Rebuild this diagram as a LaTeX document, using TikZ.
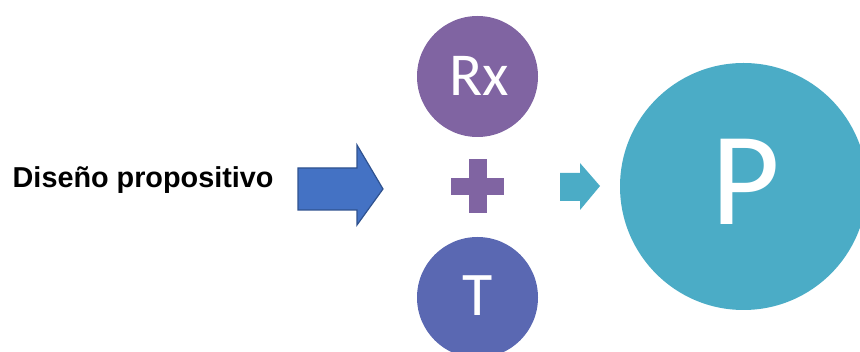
\documentclass[tikz,border=0pt]{standalone}
\usepackage{fontspec}
\setmainfont{Liberation Sans}
\newfontfamily\calib{Carlito}
\definecolor{bluearrow}{HTML}{4472C4}
\definecolor{bluearrowborder}{HTML}{2F528F}
\definecolor{purplec}{HTML}{8064A2}
\definecolor{indigoc}{HTML}{5A68B2}
\definecolor{tealc}{HTML}{4BACC6}
\begin{document}
\begin{tikzpicture}[x=1pt,y=-1pt,
  circ/.style={circle,inner sep=0pt,minimum size=#1},
  lettr/.style={text=white,inner sep=0pt,anchor=base}]
\useasboundingbox (0,0) rectangle (860,352);
\clip (0,0) rectangle (860,352);
% label
\node[anchor=base west,inner sep=0pt,font=\bfseries\fontsize{28.8}{32}\selectfont] (lbl) at (12.5,188) {Diseño propositivo};
% big arrow
\draw[fill=bluearrow,draw=bluearrowborder,line width=1.2pt,line join=miter]
  (298,168) -- (357,168) -- (357,145) -- (383,189) -- (357,225) -- (357,210) -- (298,210) -- cycle;
% circles
\node[circ=121pt,fill=purplec] (rx) at (477.5,76.5) {};
\node[circ=121pt,fill=indigoc] (t) at (477.5,297.5) {};
\node[circ=247pt,fill=tealc] (p) at (743.5,186.5) {};
\node[lettr,font=\calib\fontsize{61}{61}\selectfont] (rxl) at (479,96) {Rx};
\node[lettr,font=\calib\fontsize{62}{62}\selectfont] (tl) at (478,316) {T};
\node[lettr,font=\calib\fontsize{133}{133}\selectfont] (pl) at (746,225) {P};
% plus
\fill[purplec] (451,178) rectangle (504,195);
\fill[purplec] (469,159) rectangle (487,213);
% small arrow
\fill[tealc] (560,173) -- (580,173) -- (580,163) -- (600,186) -- (580,210) -- (580,201) -- (560,201) -- cycle;
\end{tikzpicture}
\end{document}
